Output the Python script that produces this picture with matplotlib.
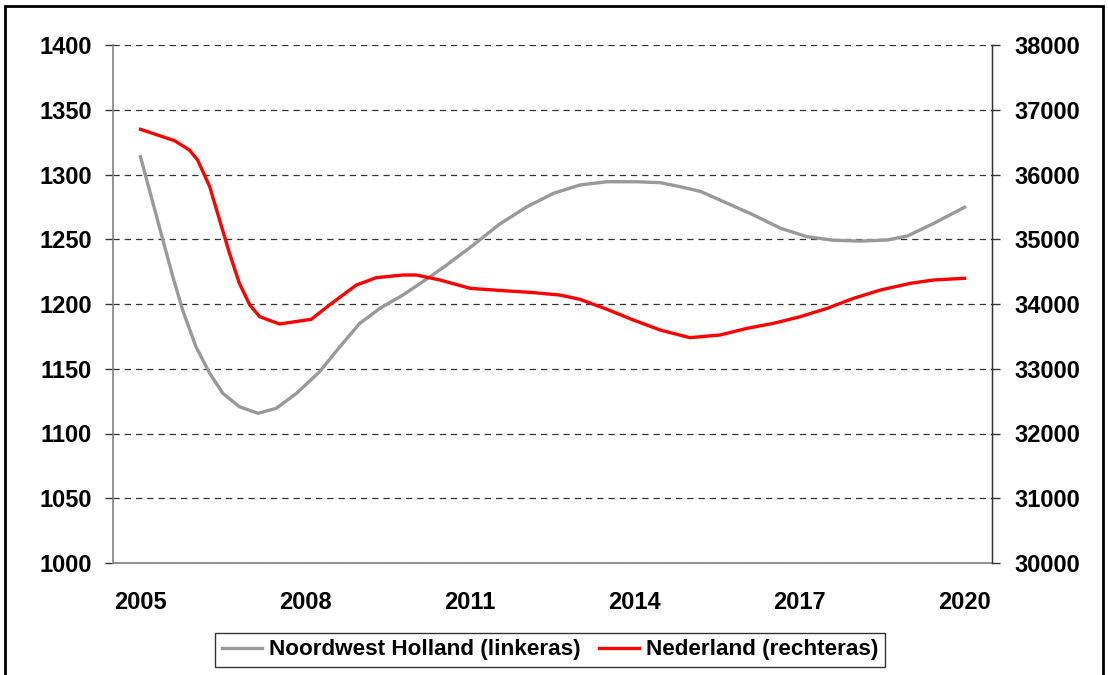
import matplotlib
matplotlib.use("Agg")
import matplotlib.pyplot as plt
from matplotlib.patches import Rectangle

# Data
nwh_years = [2005.0, 2005.4, 2005.59, 2005.77, 2006.01, 2006.26, 2006.5, 2006.8,
             2007.14, 2007.47, 2007.84, 2008.26, 2008.63, 2008.99, 2009.36, 2009.78,
             2010.27, 2010.57, 2011.06, 2011.54, 2012.03, 2012.52, 2013.0, 2013.49,
             2014.03, 2014.46, 2014.82, 2015.19, 2015.67, 2016.16, 2016.65, 2017.13,
             2017.62, 2018.1, 2018.59, 2018.96, 2019.44, 2020.0]
nwh_values = [1313.7, 1250.7, 1221, 1195, 1167, 1146.5, 1131, 1120.7,
              1115.6, 1119.4, 1131, 1147.7, 1167, 1185, 1196.7, 1207,
              1221, 1230, 1245.6, 1261.8, 1275, 1285.5, 1291.9, 1294.4,
              1294.4, 1293.7, 1290.6, 1287, 1278, 1268.7, 1258.5, 1252,
              1249.2, 1248.6, 1249.4, 1252.5, 1262.3, 1274.7]

nl_years = [2005.0, 2005.62, 2005.89, 2006.04, 2006.26, 2006.44, 2006.62, 2006.8,
            2006.99, 2007.17, 2007.53, 2008.11, 2008.44, 2008.93, 2009.29, 2009.78,
            2010.02, 2010.45, 2011.0, 2011.6, 2012.09, 2012.63, 2013.0, 2013.49,
            2013.97, 2014.46, 2015.0, 2015.55, 2016.04, 2016.52, 2017.01, 2017.5,
            2017.98, 2018.47, 2019.02, 2019.44, 2020.0]
nl_values = [36698, 36522, 36378, 36224, 35812, 35297, 34783, 34320,
             33985, 33804, 33691, 33764, 33985, 34293, 34406, 34448,
             34448, 34371, 34242, 34206, 34180, 34139, 34072, 33918,
             33753, 33598, 33480, 33521, 33624, 33701, 33804, 33933,
             34088, 34216, 34320, 34371, 34397]

x_ticks = [2005, 2008, 2011, 2014, 2017, 2020]
left_ticks = [1000, 1050, 1100, 1150, 1200, 1250, 1300, 1350, 1400]
right_ticks = [30000, 31000, 32000, 33000, 34000, 35000, 36000, 37000, 38000]

plt.rcParams['font.family'] = ['Liberation Sans', 'DejaVu Sans']
plt.rcParams['font.weight'] = 'bold'

fig = plt.figure(figsize=(11.08, 6.75), dpi=100)
ax = fig.add_axes([113 / 1108, 112 / 675, 879 / 1108, 518 / 675])
ax2 = ax.twinx()

line1, = ax.plot(nwh_years, nwh_values, color='#999999', lw=2.4,
                 label='Noordwest Holland (linkeras)', zorder=3)
line2, = ax2.plot(nl_years, nl_values, color='#ff0000', lw=2.4,
                  label='Nederland (rechteras)', zorder=3)

ax.set_xlim(2004.5, 2020.5)
ax.set_ylim(1000, 1400)
ax2.set_ylim(30000, 38000)
ax.set_xticks(x_ticks)
ax.set_yticks(left_ticks)
ax2.set_yticks(right_ticks)
ax.set_xticklabels([str(t) for t in x_ticks], fontsize=17, fontweight='bold')
ax.set_yticklabels([str(t) for t in left_ticks], fontsize=17, fontweight='bold')
ax2.set_yticklabels([str(t) for t in right_ticks], fontsize=17, fontweight='bold')

ax.tick_params(axis='x', length=0, pad=20)
ax.tick_params(axis='y', length=6, width=1, color='#333333', pad=9)
ax2.tick_params(axis='y', length=6, width=1, color='#333333', pad=10)

ax.yaxis.grid(True, color='#333333', linestyle=(0, (5, 4)), lw=0.9)
ax.set_axisbelow(True)

for a in (ax, ax2):
    a.spines['top'].set_visible(False)
ax.spines['left'].set_color('#808080')
ax.spines['bottom'].set_color('#808080')
ax2.spines['left'].set_visible(False)
ax2.spines['bottom'].set_visible(False)
ax2.spines['right'].set_color('#333333')
for s in ('left', 'bottom'):
    ax.spines[s].set_linewidth(1.2)
ax2.spines['right'].set_linewidth(1.0)

leg = fig.legend([line1, line2], [line1.get_label(), line2.get_label()],
                 loc='center', bbox_to_anchor=(550 / 1108, 25 / 675), ncol=2,
                 frameon=True, fancybox=False, edgecolor='black',
                 handlelength=1.8, handletextpad=0.3, columnspacing=0.8,
                 borderpad=0.3, prop={'weight': 'bold', 'size': 16.2})
leg.get_frame().set_linewidth(1.0)

# outer border of the chart area
fig.patches.append(Rectangle((5 / 1108, -0.05), 1098 / 1108, (669 / 675) + 0.05,
                             transform=fig.transFigure, fill=False,
                             edgecolor='black', lw=2))

fig.savefig('out.png', dpi=100)
